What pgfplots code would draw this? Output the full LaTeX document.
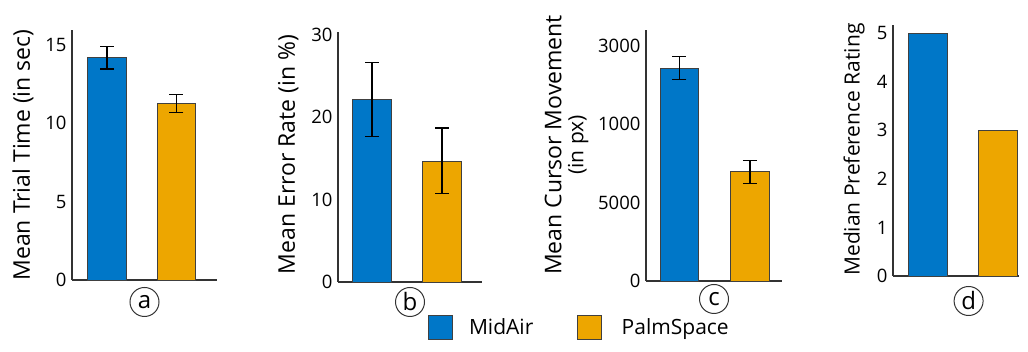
\documentclass[border=0pt]{standalone}
\usepackage{fontspec}
\setmainfont{Open Sans}
\usepackage{pgfplots}
\pgfplotsset{compat=1.18}
\definecolor{bblue}{HTML}{0077C8}
\definecolor{borange}{HTML}{EDA600}
\definecolor{axgray}{HTML}{333333}
\pgfplotsset{
  panel/.style={
    scale only axis, anchor=south west,
    axis x line*=bottom, axis y line*=left,
    axis line style={-, line width=1.2pt, draw=axgray},
    xtick=\empty,
    major tick length=0pt,
    ymin=0,
    scaled y ticks=false,
    ybar, bar width=38.5pt, bar shift=0pt,
    /pgf/number format/assume math mode=true,
    tick label style={font=\fontsize{18.5}{20}\selectfont},
    yticklabel style={xshift=-2pt},
    label style={font=\fontsize{23}{26}\selectfont},
    ylabel style={anchor=base, inner sep=0pt},
    xlabel style={draw=axgray, circle, minimum size=29pt, inner sep=0pt, line width=1pt, anchor=center, font=\fontsize{24}{26}\selectfont},
    clip=false,
  },
  bbar/.style={fill=bblue, draw=black!75, line width=0.8pt},
  obar/.style={fill=borange, draw=black!75, line width=0.8pt},
  err/.style={error bars/.cd, y dir=both, y explicit,
    error bar style={line width=1.2pt, black},
    error mark options={rotate=90, mark size=7pt, line width=1.2pt, black}, /pgfplots/.cd},
}
\begin{document}
\begin{tikzpicture}
\useasboundingbox (0,0) rectangle (1028pt,352pt);
% (a)
\begin{axis}[panel, at={(72pt,72pt)}, width=145pt, height=250pt,
  xmin=-0.504, xmax=1.583, ymax=15.96, ytick={0,5,10,15},
  ylabel={Mean Trial Time (in sec)},
  ylabel style={at={(axis description cs:-0.29,0.5)}},
  xlabel={a}, xlabel style={at={(axis description cs:0.5,0)}, yshift=-22pt}]
\addplot[bbar, err] coordinates {(0,14.2) +- (0,0.73)};
\addplot[obar, err] coordinates {(1,11.25) +- (0,0.57)};
\end{axis}
% (b)
\begin{axis}[panel, at={(338pt,70pt)}, width=144pt, height=250pt,
  xmin=-0.486, xmax=1.571, ymax=30.36, ytick={0,10,20,30},
  ylabel={Mean Error Rate (in \%)},
  ylabel style={at={(axis description cs:-0.30,0.51)}},
  xlabel={b}, xlabel style={at={(axis description cs:0.5,0)}, yshift=-20pt},
  legend style={draw=none, fill=none, inner sep=0pt, at={(axis description cs:0.621,-0.18)}, anchor=west,
    legend columns=2, font=\fontsize{21}{24}\selectfont,
    /tikz/every even column/.append style={column sep=42pt}}]
\addlegendimage{legend image code/.code={\path[draw=none] (0pt,0pt) -- (39pt,0pt);\draw[fill=bblue,draw=black!75,line width=0.8pt] (0pt,-12pt) rectangle (24pt,12pt);}}
\addlegendentry{MidAir}
\addlegendimage{legend image code/.code={\path[draw=none] (0pt,0pt) -- (42pt,0pt);\draw[fill=borange,draw=black!75,line width=0.8pt] (0pt,-12pt) rectangle (24pt,12pt);}}
\addlegendentry{PalmSpace}
\addplot[forget plot, bbar, err] coordinates {(0,22.2) +- (0,4.5)};
\addplot[forget plot, obar, err] coordinates {(1,14.7) +- (0,4.0)};
\end{axis}
% (c)
\begin{axis}[panel, at={(646pt,71pt)}, width=136pt, height=251pt,
  xmin=-0.475, xmax=1.454, ymax=15987, ytick={0,5000,10000,15000},
  yticklabels={0,5000,1000,3000},
  ylabel={Mean Cursor Movement\\[-4pt]{\fontsize{21}{24}\selectfont(in px)}},
  ylabel style={align=center, anchor=center, at={(axis description cs:-0.585,0.542)}},
  xlabel={c}, xlabel style={at={(axis description cs:0.5,0)}, yshift=-18pt}]
\addplot[bbar, err] coordinates {(0,13550) +- (0,730)};
\addplot[obar, err] coordinates {(1,6950) +- (0,750)};
\end{axis}
% (d)
\begin{axis}[panel, at={(893pt,76pt)}, width=126pt, height=251pt,
  xmin=-0.5, xmax=1.3, ymax=5.17, ytick={0,1,2,3,4,5},
  ylabel={Median Preference Rating},
  ylabel style={font=\fontsize{21}{24}\selectfont, at={(axis description cs:-0.264,0.504)}},
  xlabel={d}, xlabel style={at={(axis description cs:0.6,0)}, yshift=-25pt}]
\addplot[bbar] coordinates {(0,5)};
\addplot[obar] coordinates {(1,3)};
\end{axis}
\end{tikzpicture}
\end{document}
